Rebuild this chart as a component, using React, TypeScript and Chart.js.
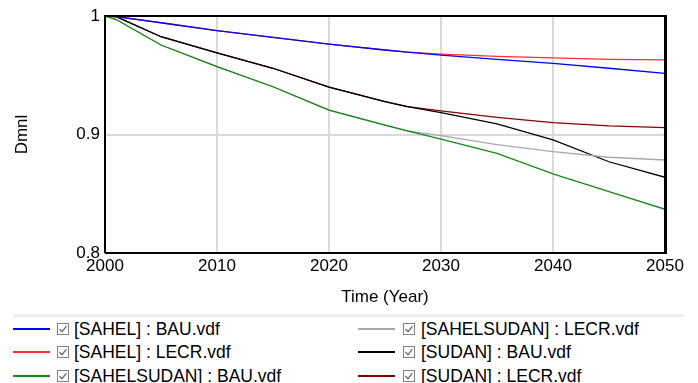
import React, { useEffect, useRef } from "react";
import { Chart, registerables } from "chart.js";
Chart.register(...registerables);

const years = [2000, 2001, 2005, 2010, 2015, 2020, 2025, 2027, 2030, 2035, 2040, 2045, 2050];
const sahelBAU = [1, 0.9995, 0.9943, 0.9877, 0.982, 0.9763, 0.9713, 0.9695, 0.967, 0.9634, 0.96, 0.9559, 0.9516];
const sahelLECR = [1, 0.9995, 0.9943, 0.9877, 0.982, 0.9763, 0.9713, 0.9695, 0.9678, 0.966, 0.9646, 0.9634, 0.9629];
const sahelsudanBAU = [1, 0.997, 0.9755, 0.9572, 0.9403, 0.9205, 0.908, 0.903, 0.896, 0.884, 0.8667, 0.8517, 0.8369];
const sahelsudanLECR = [1, 0.997, 0.9755, 0.9572, 0.9403, 0.9205, 0.908, 0.903, 0.899, 0.8915, 0.8855, 0.8808, 0.8785];
const sudanBAU = [1, 0.9995, 0.9825, 0.9688, 0.9559, 0.94, 0.9277, 0.9235, 0.9184, 0.909, 0.8954, 0.877, 0.8639];
const sudanLECR = [1, 0.9995, 0.9825, 0.9688, 0.9559, 0.94, 0.9277, 0.9235, 0.92, 0.9145, 0.91, 0.9072, 0.9058];

const seriesLabels = [
  "[SAHEL] : BAU.vdf",
  "[SAHEL] : LECR.vdf",
  "[SAHELSUDAN] : BAU.vdf",
  "[SAHELSUDAN] : LECR.vdf",
  "[SUDAN] : BAU.vdf",
  "[SUDAN] : LECR.vdf",
];
const seriesValues = [sahelBAU, sahelLECR, sahelsudanBAU, sahelsudanLECR, sudanBAU, sudanLECR];
const seriesColors = ["#0000ff", "#ff3030", "#138a13", "#a8a8a8", "#000000", "#8b0000"];

const xTickValues = [2000, 2010, 2020, 2030, 2040, 2050];
const xTickLabels = ["2000", "2010", "2020", "2030", "2040", "2050"];
const yTickValues = [0.8, 0.9, 1];
const yTickLabels = ["0.8", "0.9", "1"];

const FONT = "'Liberation Sans', Arial, sans-serif";

const borderPlugin = {
  id: "plotBorder",
  afterDatasetsDraw(chart: any) {
    const { ctx, chartArea } = chart;
    const { left, top, right, bottom } = chartArea;
    ctx.save();
    ctx.strokeStyle = "#000";
    ctx.lineWidth = 2;
    ctx.beginPath();
    ctx.moveTo(left, bottom);
    ctx.lineTo(left, top);
    ctx.lineTo(right, top);
    ctx.stroke();
    ctx.beginPath();
    ctx.moveTo(left, bottom);
    ctx.lineTo(right + 1, bottom);
    ctx.stroke();
    ctx.lineWidth = 3;
    ctx.beginPath();
    ctx.moveTo(right + 0.5, top - 1);
    ctx.lineTo(right + 0.5, bottom + 1);
    ctx.stroke();
    ctx.restore();
  },
};

function CheckBox() {
  return (
    <svg width={12} height={12} style={{ display: "block" }}>
      <rect x={0.5} y={0.5} width={11} height={11} fill="#fff" stroke="#808080" strokeWidth={1} />
      <polyline points="2.5,6 5,8.7 9.5,3.2" fill="none" stroke="#6a6a6a" strokeWidth={1.3} />
    </svg>
  );
}

export default function App() {
  const canvasRef = useRef<HTMLCanvasElement | null>(null);

  useEffect(() => {
    const canvas = canvasRef.current;
    if (!canvas) return;
    const chart = new Chart(canvas, {
      type: "line",
      data: {
        datasets: seriesLabels.map((label, i) => ({
          label,
          data: years.map((y, j) => ({ x: y, y: seriesValues[i][j] })),
          borderColor: seriesColors[i],
          backgroundColor: seriesColors[i],
          borderWidth: 1.3,
          pointRadius: 0,
          tension: 0,
          fill: false,
        })),
      },
      options: {
        animation: false,
        responsive: false,
        events: [],
        layout: { padding: { top: 16, right: 33, left: 0, bottom: 0 } },
        plugins: { legend: { display: false }, tooltip: { enabled: false } },
        scales: {
          x: {
            type: "linear",
            min: 2000,
            max: 2050,
            afterBuildTicks: (scale: any) => {
              scale.ticks = xTickValues.map((v) => ({ value: v }));
            },
            afterFit: (scale: any) => {
              scale.height = 57;
            },
            ticks: {
              color: "#000",
              padding: 3,
              maxRotation: 0,
              font: { family: FONT, size: 17 },
              callback: (v: any) => {
                const k = xTickValues.indexOf(Number(v));
                return k >= 0 ? xTickLabels[k] : "";
              },
            },
            grid: { color: "#dadada", lineWidth: 2, drawTicks: false },
            border: { display: false },
            title: {
              display: true,
              text: "Time (Year)",
              color: "#000",
              font: { family: FONT, size: 17 },
              padding: { top: 0, bottom: 2 },
            },
          },
          y: {
            type: "linear",
            min: 0.8,
            max: 1,
            afterBuildTicks: (scale: any) => {
              scale.ticks = yTickValues.map((v) => ({ value: v }));
            },
            afterFit: (scale: any) => {
              scale.width = 105;
            },
            ticks: {
              color: "#000",
              padding: 5,
              font: { family: FONT, size: 17 },
              callback: (v: any) => {
                const k = yTickValues.findIndex((t) => Math.abs(t - Number(v)) < 1e-9);
                return k >= 0 ? yTickLabels[k] : "";
              },
            },
            grid: { color: "#dadada", lineWidth: 2, drawTicks: false },
            border: { display: false },
            title: {
              display: true,
              text: "Dmnl",
              color: "#000",
              font: { family: FONT, size: 17 },
              padding: { top: 12, bottom: 0 },
            },
          },
        },
      },
      plugins: [borderPlugin],
    });
    return () => chart.destroy();
  }, []);

  const rowY = [329, 352, 376];
  const cols = [
    { lineX: 13, boxX: 57, textX: 74 },
    { lineX: 358, boxX: 403, textX: 421 },
  ];

  return (
    <div
      style={{
        position: "absolute",
        left: 0,
        top: 0,
        width: 698,
        height: 383,
        overflow: "hidden",
        background: "#fff",
        fontFamily: FONT,
      }}
    >
      <canvas
        ref={canvasRef}
        width={698}
        height={310}
        style={{ position: "absolute", left: 0, top: 0, width: 698, height: 310 }}
      />
      <div
        style={{
          position: "absolute",
          left: 13,
          top: 314,
          width: 671,
          height: 3,
          background: "#eeeeee",
        }}
      />
      {seriesLabels.map((label, i) => {
        const col = cols[Math.floor(i / 3)];
        const y = rowY[i % 3];
        return (
          <React.Fragment key={label}>
            <div
              style={{
                position: "absolute",
                left: col.lineX,
                top: y - 1,
                width: 37,
                height: 1.5,
                background: seriesColors[i],
              }}
            />
            <div style={{ position: "absolute", left: col.boxX, top: y - 6 }}>
              <CheckBox />
            </div>
            <div
              style={{
                position: "absolute",
                left: col.textX,
                top: y - 12,
                height: 24,
                lineHeight: "24px",
                fontSize: 17.5,
                color: "#000",
                whiteSpace: "nowrap",
              }}
            >
              {label}
            </div>
          </React.Fragment>
        );
      })}
    </div>
  );
}
